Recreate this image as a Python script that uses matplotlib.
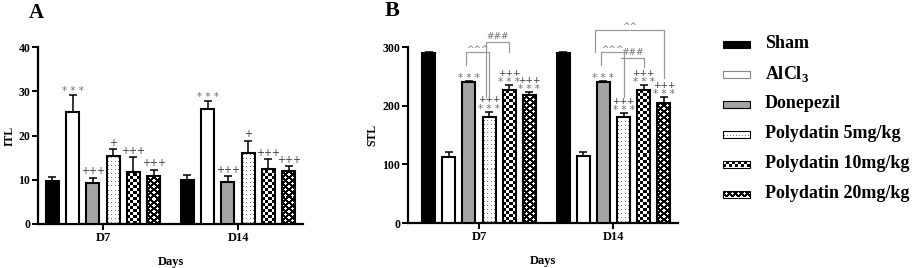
import numpy as np
import matplotlib
matplotlib.use('Agg')
import matplotlib.pyplot as plt
from matplotlib.patches import Rectangle

plt.rcParams['font.family'] = 'Liberation Serif'
plt.rcParams['font.weight'] = 'bold'
plt.rcParams['mathtext.fontset'] = 'custom'
plt.rcParams['mathtext.bf'] = 'Liberation Serif:bold'
plt.rcParams['mathtext.rm'] = 'Liberation Serif:bold'

# ---- data ----
days = ['D7', 'D14']
groups = ['Sham', r'AlCl$_\mathbf{3}$', 'Donepezil', 'Polydatin 5mg/kg',
          'Polydatin 10mg/kg', 'Polydatin 20mg/kg']

itl_d7 = [9.8, 25.2, 9.3, 15.4, 11.7, 10.9]
itl_d7_err = [0.9, 3.9, 1.2, 1.5, 3.4, 1.4]
itl_d14 = [10.0, 26.0, 9.5, 16.0, 12.4, 12.0]
itl_d14_err = [1.0, 1.7, 1.3, 2.8, 2.2, 1.1]

stl_d7 = [290, 113, 240, 181, 227, 218]
stl_d7_err = [1, 8, 1.5, 9, 8, 5]
stl_d14 = [290, 114, 240, 180, 227, 204]
stl_d14_err = [1, 7, 1.5, 7, 8, 11]

itl_marks = ['', '***', '+++', '+', '+++', '+++']
stl_stars = ['', '', '***', '***', '***', '***']
stl_plus = ['', '', '', '+++', '+++', '+++']

# bracket comparisons in panel B: (day, from bar, to bar, label, top, left leg end, right leg end)
stl_brackets = [
    (0, 2, 3, '^^^', 291, 269, 215),
    (0, 3, 4, '###', 309, 215, 292),
    (1, 2, 3, '^^^', 291, 269, 215),
    (1, 3, 4, '###', 281, 281, 266),
    (1, 2, 5, '^^', 329, 291, 247),
]

styles = ['black', 'white', '#a4a4a4', 'dots', 'check', 'diamond']

W, H = 913, 268
fig = plt.figure(figsize=(W / 100, H / 100), dpi=100)

pitch = 0.15
bw = 0.097
offsets = (np.arange(6) - 2.5) * pitch
mark_font = dict(family='DejaVu Sans', fontweight='normal', ha='center',
                 va='baseline', textcoords='offset points',
                 annotation_clip=False)


def pattern_image(w, h, kind):
    ii, jj = np.mgrid[0:h, 0:w]
    if kind == 'dots':
        img = np.ones((h, w, 3))
        img[(ii % 4 == 1) & (jj % 3 == 1)] = 0.5
    elif kind == 'check':
        img = np.ones((h, w, 3))
        img[((ii // 3 + jj // 3) % 2) == 0] = 0
    else:
        img = np.zeros((h, w, 3))
        di, dj = ii % 6, jj % 6
        d1 = np.minimum(di, 6 - di) + np.minimum(dj, 6 - dj)
        d2 = np.abs(di - 3) + np.abs(dj - 3)
        img[(d1 <= 1) | (d2 <= 1)] = 1
    return img


def fill_pattern(ax, rect, kind):
    bb = rect.get_window_extent()
    w = max(int(round(bb.width)), 1)
    h = max(int(round(abs(bb.height))), 1)
    x, y = rect.get_xy()
    im = ax.imshow(pattern_image(w, h, kind),
                   extent=(x, x + rect.get_width(), y, y + rect.get_height()),
                   origin='lower', aspect='auto', interpolation='nearest',
                   zorder=rect.get_zorder() - 0.5)
    im.set_clip_path(rect)


def draw_bars(ax, vals, errs, xlim, ylim):
    ax.set_xlim(*xlim)
    ax.set_ylim(*ylim)
    ax.set_autoscale_on(False)
    tops = []
    for d, (v, e) in enumerate(zip(vals, errs)):
        xs = d + offsets
        for k in range(6):
            st = styles[k]
            fc = st if st in ('black', 'white') or st.startswith('#') else 'none'
            ax.errorbar(xs[k], v[k], yerr=[[0], [e[k]]], color='black',
                        capsize=3, elinewidth=1.1, capthick=1.1, zorder=2)
            rect = ax.bar(xs[k], v[k], width=bw, color=fc, edgecolor='black',
                          linewidth=1.5, zorder=3)[0]
            if fc == 'none':
                fill_pattern(ax, rect, st)
        tops.append([v[k] + e[k] for k in range(6)])
    ax.set_xlim(*xlim)
    ax.set_ylim(*ylim)
    for s in ['top', 'right']:
        ax.spines[s].set_visible(False)
    for s in ['left', 'bottom']:
        ax.spines[s].set_linewidth(1.6)
    ax.tick_params(width=1.4, length=4.3, labelsize=8.5, pad=1.2)
    ax.tick_params(axis='x', labelsize=9)
    ax.set_xticks(range(len(days)))
    ax.set_xticklabels(days, fontweight='bold')
    ax.set_xlabel('Days', fontsize=9, fontweight='bold', labelpad=9)
    return tops


# ---- panel A ----
axA = fig.add_axes([38 / W, 1 - 224 / H, (303 - 38) / W, (224 - 47) / H])
topsA = draw_bars(axA, [itl_d7, itl_d14], [itl_d7_err, itl_d14_err],
                  (-0.482, 1.481), (0, 40))
axA.set_yticks([0, 10, 20, 30, 40])
axA.set_ylabel('ITL', fontsize=8.5, fontweight='bold', labelpad=2)
for d in range(2):
    for k in range(6):
        m = itl_marks[k]
        if m == '***':
            axA.annotate('* * *', (d + offsets[k], topsA[d][k]), xytext=(0, 1),
                         fontsize=7.5, color='#707070', **mark_font)
        elif m:
            axA.annotate(m, (d + offsets[k], topsA[d][k]), xytext=(0, 2.4),
                         fontsize=7, color='#3a3a3a', **mark_font)

# ---- panel B ----
axB = fig.add_axes([408 / W, 1 - 223 / H, (678 - 408) / W, (223 - 47) / H])
topsB = draw_bars(axB, [stl_d7, stl_d14], [stl_d7_err, stl_d14_err],
                  (-0.528, 1.48), (0, 300))
axB.set_yticks([0, 100, 200, 300])
axB.set_ylabel('STL', fontsize=8.5, fontweight='bold', labelpad=3)
for d in range(2):
    for k in range(6):
        x = d + offsets[k]
        if stl_stars[k]:
            axB.annotate('* * *', (x, topsB[d][k]), xytext=(0, 0),
                         fontsize=7.5, color='#707070', **mark_font)
        if stl_plus[k]:
            axB.annotate(stl_plus[k], (x, topsB[d][k]), xytext=(0, 6.6),
                         fontsize=6.5, color='#3a3a3a', **mark_font)

for d, i, j, lab, top, lend, rend in stl_brackets:
    x0 = d + offsets[i] - (0.06 if lab == '^^' else 0.02)
    x1 = d + offsets[j]
    axB.plot([x0, x0, x1, x1], [lend, top, top, rend], color='#999999',
             linewidth=0.9, clip_on=False, zorder=4)
    dy = 0.5 if lab.startswith('^') else 2.2
    axB.annotate(lab, ((x0 + x1) / 2, top), xytext=(0, dy),
                 fontsize=6.5, color='#707070', **mark_font)

# ---- panel letters ----
fig.text(36 / W, 1 - 13 / H, 'A', fontsize=15, fontweight='bold',
         ha='center', va='center')
fig.text(392 / W, 1 - 11 / H, 'B', fontsize=16, fontweight='bold',
         ha='center', va='center')

# ---- legend ----
axL = fig.add_axes([0, 0, 1, 1])
axL.set_xlim(0, W)
axL.set_ylim(0, H)
axL.set_autoscale_on(False)
axL.axis('off')
for k, name in enumerate(groups):
    yc = H - (44 + 30 * k)
    st = styles[k]
    fc = st if st in ('black', 'white') or st.startswith('#') else 'none'
    ec = '#888888' if st == 'white' else 'black'
    r = Rectangle((723, yc - 3.5), 27, 7, facecolor=fc, edgecolor=ec,
                  linewidth=0.8, zorder=3)
    axL.add_patch(r)
    if fc == 'none':
        fill_pattern(axL, r, st)
    axL.text(765, yc, name, fontsize=13, fontweight='bold', ha='left',
             va='center')
axL.set_xlim(0, W)
axL.set_ylim(0, H)

fig.savefig('out.png', dpi=100)
